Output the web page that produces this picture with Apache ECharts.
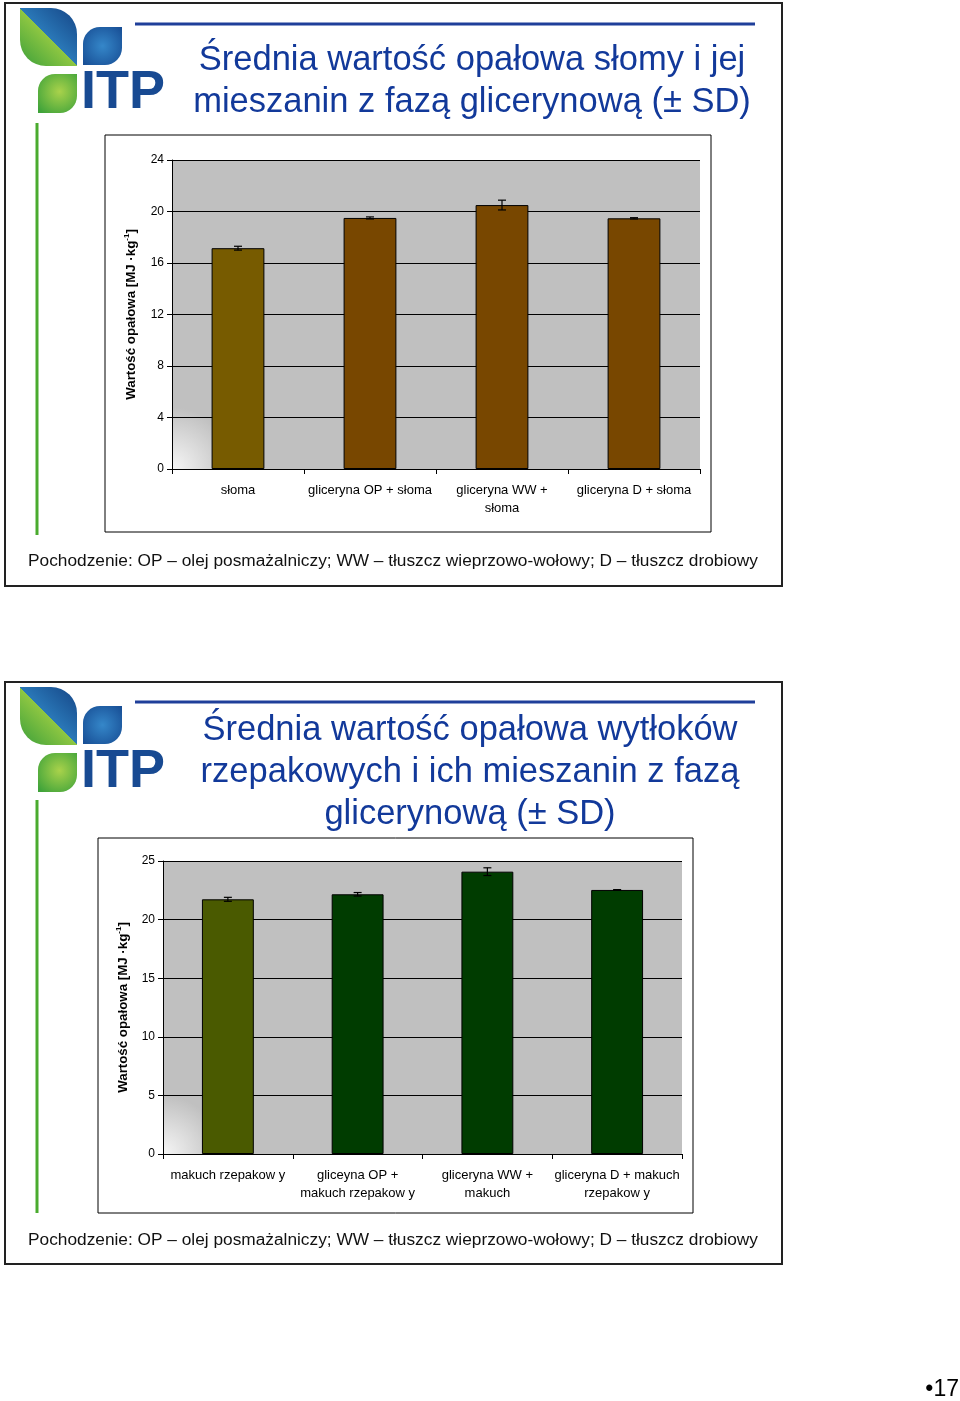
<!DOCTYPE html>
<html>
<head>
<meta charset="utf-8">
<script src="https://cdn.jsdelivr.net/npm/echarts@6/dist/echarts.min.js"></script>
<style>
html,body{margin:0;padding:0;background:#fff;}
#c{width:960px;height:1401px;}
</style>
</head>
<body>
<div id="c"></div>
<script>
// ---- data ----
const cats1 = ['słoma', 'gliceryna OP + słoma', 'gliceryna WW +\nsłoma', 'gliceryna D + słoma'];
const vals1 = [17.15, 19.5, 20.5, 19.47];
const sd1 = [0.15, 0.08, 0.38, 0.05];
const colors1 = ['#775b00', '#784700', '#784700', '#784700'];

const cats2 = ['makuch rzepakow y', 'gliceyna OP +\nmakuch rzepakow y', 'gliceryna WW +\nmakuch', 'gliceryna D + makuch\nrzepakow y'];
const vals2 = [21.73, 22.16, 24.09, 22.53];
const sd2 = [0.17, 0.15, 0.33, 0.03];
const colors2 = ['#4a5a00', '#003c00', '#003c00', '#003c00'];

const title1 = 'Średnia wartość opałowa słomy i jej\nmieszanin z fazą glicerynową (± SD)';
const title2 = 'Średnia wartość opałowa wytłoków\nrzepakowych i ich mieszanin z fazą\nglicerynową (± SD)';
const note = 'Pochodzenie: OP – olej posmażalniczy; WW – tłuszcz wieprzowo-wołowy; D – tłuszcz drobiowy';
const yName = '{a|Wartość opałowa [MJ ·kg}{s|-1}{a|]}';

const FF = '"Liberation Sans", Arial, sans-serif';
const chart = echarts.init(document.getElementById('c'), null, {renderer: 'canvas'});

const gridBg = {
  type: 'radial', x: 0, y: 1, r: 0.2,
  colorStops: [{offset: 0, color: '#f6f6f6'}, {offset: 1, color: '#c0c0c0'}]
};

function xAx(gi, cats) {
  return {
    type: 'category', gridIndex: gi, data: cats,
    axisLine: {lineStyle: {color: '#000', width: 1}},
    axisTick: {show: true, length: 5, lineStyle: {color: '#000'}},
    axisLabel: {interval: 0, color: '#000', fontSize: 13, fontFamily: FF, lineHeight: 18, margin: 12}
  };
}
function yAx(gi, max, interval, gap) {
  return {
    type: 'value', gridIndex: gi, min: 0, max: max, interval: interval,
    name: yName, nameLocation: 'middle', nameGap: gap, nameRotate: 90,
    nameTextStyle: {
      color: '#000', fontFamily: FF,
      rich: {
        a: {fontSize: 13.3, fontWeight: 'bold', fontFamily: FF, color: '#000', lineHeight: 16},
        s: {fontSize: 8, fontWeight: 'bold', fontFamily: FF, color: '#000', verticalAlign: 'top', lineHeight: 10}
      }
    },
    axisLine: {show: true, lineStyle: {color: '#000', width: 1}},
    axisTick: {show: true, length: 5, lineStyle: {color: '#000'}},
    axisLabel: {color: '#000', fontSize: 12, fontFamily: FF, margin: 8},
    splitLine: {show: true, lineStyle: {color: '#000', width: 1.2}}
  };
}
function barSeries(idx, vals, colors) {
  return {
    type: 'bar', xAxisIndex: idx, yAxisIndex: idx, barWidth: '40%',
    data: vals.map((v, i) => ({value: v, itemStyle: {color: colors[i]}})),
    itemStyle: {borderColor: '#000', borderWidth: 1},
    emphasis: {disabled: true}, silent: true
  };
}
function errSeries(idx, vals, sds) {
  return {
    type: 'custom', xAxisIndex: idx, yAxisIndex: idx, z: 5, silent: true,
    data: vals.map((v, i) => [i, v - sds[i], v + sds[i]]),
    encode: {x: 0, y: [1, 2]},
    renderItem: function (params, api) {
      const lo = api.coord([api.value(0), api.value(1)]);
      const hi = api.coord([api.value(0), api.value(2)]);
      const w = 4;
      const st = {stroke: '#000', lineWidth: 1.2};
      return {
        type: 'group', children: [
          {type: 'line', shape: {x1: lo[0], y1: lo[1], x2: hi[0], y2: hi[1]}, style: st},
          {type: 'line', shape: {x1: lo[0] - w, y1: lo[1], x2: lo[0] + w, y2: lo[1]}, style: st},
          {type: 'line', shape: {x1: hi[0] - w, y1: hi[1], x2: hi[0] + w, y2: hi[1]}, style: st}
        ]
      };
    }
  };
}

function logo(dy) {
  return [
    {type: 'rect', shape: {x: 20, y: 8 + dy, width: 57, height: 58, r: [0, 26, 0, 26]},
      style: {fill: {type: 'linear', x: 1, y: 0, x2: 0, y2: 1, colorStops: [
        {offset: 0, color: '#154586'}, {offset: 0.5, color: '#2a78b8'},
        {offset: 0.5, color: '#8fc742'}, {offset: 1, color: '#3b9f3a'}]}}},
    {type: 'rect', shape: {x: 83, y: 27 + dy, width: 39, height: 38, r: [17, 0, 17, 0]},
      style: {fill: {type: 'radial', x: 0.5, y: 0.5, r: 0.7, colorStops: [
        {offset: 0, color: '#3587c9'}, {offset: 1, color: '#174d94'}]}}},
    {type: 'rect', shape: {x: 38, y: 74 + dy, width: 39, height: 39, r: [17, 0, 17, 0]},
      style: {fill: {type: 'radial', x: 0.55, y: 0.45, r: 0.7, colorStops: [
        {offset: 0, color: '#a9d24b'}, {offset: 1, color: '#3fa33a'}]}}},
    {type: 'text', style: {x: 81, y: 93.5 + dy, text: 'ITP', font: 'bold 54px ' + FF, fill: '#184a92',
      textAlign: 'left', textVerticalAlign: 'middle'}}
  ];
}

const graphics = [].concat(
  // slide frames
  [{type: 'rect', shape: {x: 5, y: 3, width: 777, height: 583}, style: {fill: null, stroke: '#222', lineWidth: 2}},
   {type: 'rect', shape: {x: 5, y: 682, width: 777, height: 582}, style: {fill: null, stroke: '#222', lineWidth: 2}},
   // blue rules
   {type: 'line', shape: {x1: 135, y1: 24, x2: 755, y2: 24}, style: {stroke: '#1f3f9a', lineWidth: 3}},
   {type: 'line', shape: {x1: 135, y1: 702, x2: 755, y2: 702}, style: {stroke: '#1f3f9a', lineWidth: 3}},
   // green rules
   {type: 'line', shape: {x1: 37, y1: 123, x2: 37, y2: 535}, style: {stroke: '#4aab2e', lineWidth: 3}},
   {type: 'line', shape: {x1: 37, y1: 800, x2: 37, y2: 1213}, style: {stroke: '#4aab2e', lineWidth: 3}},
   // chart boxes
   {type: 'rect', shape: {x: 105, y: 135, width: 606, height: 397}, style: {fill: null, stroke: '#000', lineWidth: 1}},
   {type: 'rect', shape: {x: 98, y: 838, width: 595, height: 375}, style: {fill: null, stroke: '#000', lineWidth: 1}},
   // footnotes
   {type: 'text', style: {x: 393, y: 561, text: note, font: '17.3px ' + FF, fill: '#111', textAlign: 'center', textVerticalAlign: 'middle'}},
   {type: 'text', style: {x: 393, y: 1240, text: note, font: '17.3px ' + FF, fill: '#111', textAlign: 'center', textVerticalAlign: 'middle'}},
   // page number
   {type: 'text', style: {x: 959, y: 1390, text: '•17', font: '23px ' + FF, fill: '#000', textAlign: 'right', textVerticalAlign: 'middle'}}
  ],
  logo(0), logo(679)
);

chart.setOption({
  backgroundColor: '#fff',
  animation: false,
  title: [
    {text: title1, left: 472, top: 39, textAlign: 'center', padding: 0,
      textStyle: {fontSize: 34.5, lineHeight: 42, fontWeight: 'normal', color: '#12399a', fontFamily: FF}},
    {text: title2, left: 470, top: 709, textAlign: 'center', padding: 0,
      textStyle: {fontSize: 34.5, lineHeight: 42, fontWeight: 'normal', color: '#12399a', fontFamily: FF}}
  ],
  grid: [
    {left: 172, top: 160, width: 528, height: 309, show: true, backgroundColor: gridBg, borderWidth: 0},
    {left: 163, top: 861, width: 519, height: 293, show: true, backgroundColor: gridBg, borderWidth: 0}
  ],
  xAxis: [xAx(0, cats1), xAx(1, cats2)],
  yAxis: [yAx(0, 24, 4, 33), yAx(1, 25, 5, 32)],
  series: [
    barSeries(0, vals1, colors1), errSeries(0, vals1, sd1),
    barSeries(1, vals2, colors2), errSeries(1, vals2, sd2)
  ],
  graphic: {elements: graphics}
});
</script>
</body>
</html>
